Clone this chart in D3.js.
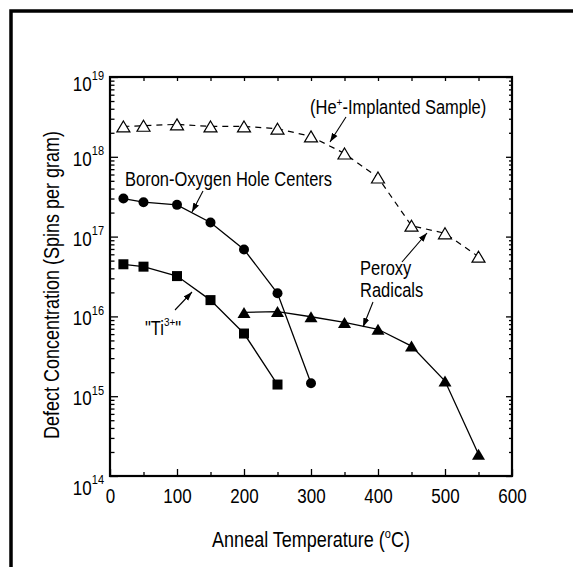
<!DOCTYPE html>
<html>
<head>
<meta charset="utf-8">
<script src="https://cdn.jsdelivr.net/npm/d3@7"></script>
<style>
  body { margin: 0; background: white; }
  text { font-family: "Liberation Sans", Arial, sans-serif; fill: black; }
</style>
</head>
<body>
<svg id="chart" width="573" height="567"></svg>
<script>
// data
var heTemps = [20, 50, 100, 150, 200, 250, 300, 350, 400, 450, 500, 550];
var heVals = [2.4e18, 2.45e18, 2.55e18, 2.4e18, 2.4e18, 2.25e18, 1.8e18, 1.1e18, 5.5e17, 1.37e17, 1.1e17, 5.6e16];

var boronTemps = [20, 50, 100, 150, 200, 250, 300];
var boronVals = [3.0e17, 2.7e17, 2.5e17, 1.5e17, 6.9e16, 1.95e16, 1.45e15];

var tiTemps = [20, 50, 100, 150, 200, 250];
var tiVals = [4.5e16, 4.2e16, 3.2e16, 1.6e16, 6.1e15, 1.4e15];

var peroxyTemps = [200, 250, 300, 350, 400, 450, 500, 550];
var peroxyVals = [1.12e16, 1.15e16, 9.9e15, 8.4e15, 6.9e15, 4.25e15, 1.55e15, 1.87e14];

var xTicks = [0, 100, 200, 300, 400, 500, 600];
var yExponents = [14, 15, 16, 17, 18, 19];

var svg = d3.select('#chart');
var pLeft = 110, pRight = 512, pTop = 77, pBottom = 476;
var stretch = 1.18;   // text in the figure is a bit taller than normal

var x = d3.scaleLinear().domain([0, 600]).range([pLeft, pRight]);
var y = d3.scaleLog().domain([1e14, 1e19]).range([pBottom, pTop]);

// outer frame (runs off the page on the right and bottom)
svg.append('rect')
  .attr('x', 11).attr('y', 11).attr('width', 640).attr('height', 640)
  .attr('fill', 'none').attr('stroke', 'black').attr('stroke-width', 3.5);

// tick lists
var yMajor = yExponents.map(e => Math.pow(10, e));
var yMinor = [];
yExponents.slice(0, -1).forEach(function(e) {
  for (var k = 2; k <= 9; k++) yMinor.push(k * Math.pow(10, e));
});
var xMinor = d3.range(50, 600, 100);
var xTop = d3.range(50, 600, 50);

function styleAxis(g) {
  g.select('.domain').remove();
  g.selectAll('line').attr('stroke', 'black').attr('stroke-width', 1.3);
}

function label(px, py, size) {
  return svg.append('text')
    .attr('transform', 'translate(' + px + ',' + py + ') scale(1,' + stretch + ')')
    .style('font-size', size + 'px');
}

// bottom axis
svg.append('g').attr('transform', 'translate(0,' + pBottom + ')')
  .call(d3.axisBottom(x).tickValues(xTicks).tickSizeInner(-7).tickSizeOuter(0))
  .call(styleAxis)
  .selectAll('text')
  .attr('y', null).attr('dy', null)
  .attr('transform', 'translate(0,27) scale(1,' + stretch + ')')
  .attr('font-size', '17px').attr('font-family', '"Liberation Sans", Arial, sans-serif');
svg.append('g').attr('transform', 'translate(0,' + pBottom + ')')
  .call(d3.axisBottom(x).tickValues(xMinor).tickSizeInner(-4).tickSizeOuter(0).tickFormat(''))
  .call(styleAxis);

// top axis
svg.append('g').attr('transform', 'translate(0,' + pTop + ')')
  .call(d3.axisTop(x).tickValues(xTop).tickSizeInner(-4).tickSizeOuter(0).tickFormat(''))
  .call(styleAxis);

// left axis
svg.append('g').attr('transform', 'translate(' + pLeft + ',0)')
  .call(d3.axisLeft(y).tickValues(yMajor).tickSizeInner(-8).tickSizeOuter(0).tickFormat(''))
  .call(styleAxis);
svg.append('g').attr('transform', 'translate(' + pLeft + ',0)')
  .call(d3.axisLeft(y).tickValues(yMinor).tickSizeInner(-4.5).tickSizeOuter(0).tickFormat(''))
  .call(styleAxis);

// right axis
svg.append('g').attr('transform', 'translate(' + pRight + ',0)')
  .call(d3.axisRight(y).tickValues(yMajor).tickSizeInner(-6).tickSizeOuter(0).tickFormat(''))
  .call(styleAxis);
svg.append('g').attr('transform', 'translate(' + pRight + ',0)')
  .call(d3.axisRight(y).tickValues(yMinor).tickSizeInner(-3).tickSizeOuter(0).tickFormat(''))
  .call(styleAxis);

// plot frame
svg.append('rect')
  .attr('x', pLeft).attr('y', pTop).attr('width', pRight - pLeft).attr('height', pBottom - pTop)
  .attr('fill', 'none').attr('stroke', 'black').attr('stroke-width', 2.2);

// y tick labels 10^n
yExponents.forEach(function(e, i) {
  var off = 9;
  if (i == yExponents.length - 1) off = 14;
  if (i == 0) off = 19;
  var t = label(104, y(Math.pow(10, e)) + off, 17).attr('text-anchor', 'end');
  t.append('tspan').text('10');
  t.append('tspan').text(e).style('font-size', '11px').attr('dy', -9);
});

// axis titles
var xt = label((pLeft + pRight) / 2, 547, 18).attr('text-anchor', 'middle');
xt.append('tspan').text('Anneal Temperature (');
xt.append('tspan').text('o').style('font-size', '11px').attr('dy', -8);
xt.append('tspan').text('C)').attr('dy', 8);

svg.append('text')
  .attr('transform', 'translate(59,285) rotate(-90) scale(1,' + stretch + ')')
  .attr('text-anchor', 'middle').style('font-size', '18px')
  .text('Defect Concentration (Spins per gram)');

// series lines
var line = d3.line().x(d => x(d[0])).y(d => y(d[1]));
function pairs(ts, vs) { return ts.map((t, i) => [t, vs[i]]); }

var heData = pairs(heTemps, heVals);
var boronData = pairs(boronTemps, boronVals);
var tiData = pairs(tiTemps, tiVals);
var peroxyData = pairs(peroxyTemps, peroxyVals);

svg.append('path').datum(heData).attr('d', line)
  .attr('fill', 'none').attr('stroke', 'black').attr('stroke-width', 1.2)
  .attr('stroke-dasharray', '6,5');
[boronData, tiData, peroxyData].forEach(function(dat) {
  svg.append('path').datum(dat).attr('d', line)
    .attr('fill', 'none').attr('stroke', 'black').attr('stroke-width', 1.3);
});

// markers
function triPath(d) {
  var cx = x(d[0]), cy = y(d[1]), w = 6.5, h = 5.5;
  return 'M' + cx + ',' + (cy - h) + 'L' + (cx + w) + ',' + (cy + h) + 'L' + (cx - w) + ',' + (cy + h) + 'Z';
}

svg.append('g').selectAll('path').data(heData).enter().append('path')
  .attr('d', triPath).attr('fill', 'white').attr('stroke', 'black').attr('stroke-width', 1.2);

svg.append('g').selectAll('path').data(peroxyData).enter().append('path')
  .attr('d', triPath).attr('fill', 'black');

svg.append('g').selectAll('circle').data(boronData).enter().append('circle')
  .attr('cx', d => x(d[0])).attr('cy', d => y(d[1])).attr('r', 5).attr('fill', 'black');

svg.append('g').selectAll('rect').data(tiData).enter().append('rect')
  .attr('x', d => x(d[0]) - 5).attr('y', d => y(d[1]) - 5)
  .attr('width', 10).attr('height', 10).attr('fill', 'black');

// annotations
svg.append('defs').append('marker')
  .attr('id', 'arrow').attr('viewBox', '0 0 10 10')
  .attr('refX', 10).attr('refY', 5)
  .attr('markerWidth', 9).attr('markerHeight', 9)
  .attr('markerUnits', 'userSpaceOnUse')
  .attr('orient', 'auto')
  .append('path').attr('d', 'M0,1.5L10,5L0,8.5Z').attr('fill', 'black');

function arrow(x1, y1, x2, y2) {
  svg.append('line')
    .attr('x1', x1).attr('y1', y1).attr('x2', x2).attr('y2', y2)
    .attr('stroke', 'black').attr('stroke-width', 1.1)
    .attr('marker-end', 'url(#arrow)');
}

label(125, 186, 16.5).text('Boron-Oxygen Hole Centers');
arrow(203, 191, 192, 212);

var he = label(310, 114, 16.5);
he.append('tspan').text('(He');
he.append('tspan').text('+').style('font-size', '10px').attr('dy', -7);
he.append('tspan').text('-Implanted Sample)').attr('dy', 7);
arrow(346, 117, 330, 142);

label(360, 275, 16.5).text('Peroxy');
label(360, 297, 16.5).text('Radicals');
arrow(402, 262, 427, 233);
arrow(373, 302, 363, 327);

var ti = label(145, 335, 16.5);
ti.append('tspan').text('"Ti');
ti.append('tspan').text('3+').style('font-size', '10px').attr('dy', -8);
ti.append('tspan').text('"').attr('dy', 8);
arrow(175, 310, 192, 292);
</script>
</body>
</html>
